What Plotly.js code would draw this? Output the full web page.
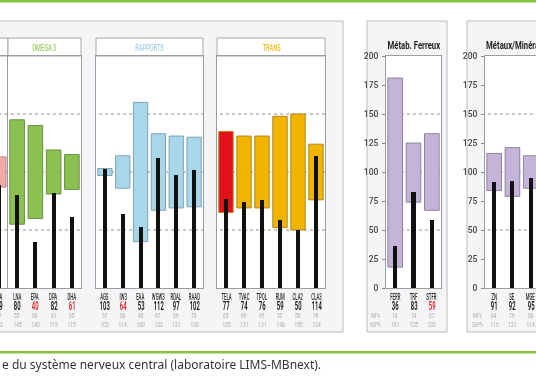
<!DOCTYPE html>
<html><head><meta charset="utf-8">
<script src="https://cdn.plot.ly/plotly-3.0.1.min.js"></script>
<style>html,body{margin:0;padding:0;background:#fff}#chart{width:536px;height:386px;will-change:transform}</style>
</head><body><div id="chart"></div>
<script>
// ---------- DATA ----------
const partCats = ['GLA'];
const partVal  = [89];
const partInf  = [87];
const partSup  = [113];

const omegaCats = ['LNA','EPA','DPA','DHA'];
const omegaVal  = [80, 40, 82, 61];
const omegaInf  = [55, 60, 81, 85];
const omegaSup  = [145, 140, 119, 115];

const rappCats = ['AGS','IW3','EAA','WGW3','RDAL','RAAD'];
const rappVal  = [103, 64, 53, 112, 97, 102];
const rappInf  = [97, 86, 40, 67, 69, 70];
const rappSup  = [103, 114, 160, 133, 131, 130];

const transCats = ['TELA','TVAC','TPOL','RUM','CLA2','CLA3'];
const transVal  = [77, 74, 76, 59, 50, 114];
const transInf  = [65, 69, 69, 52, 50, 76];
const transSup  = [135, 131, 131, 148, 150, 124];

const ferCats = ['FERR','TRF','STFR'];
const ferVal  = [36, 83, 59];
const ferInf  = [18, 74, 67];
const ferSup  = [181, 125, 133];

const metCats = ['ZN','SE','MGE'];
const metVal  = [91, 92, 95];
const metInf  = [84, 79, 86];
const metSup  = [116, 121, 114];

const headerTitles = ['', 'OMEGA 3', 'RAPPORTS', 'TRANS', 'Métab. Ferreux', 'Métaux/Minéraux'];
const yTickVals = [0, 25, 50, 75, 100, 125, 150, 175, 200];
const gridVals = [50, 100, 150];
const caption = 'e du système nerveux central (laboratoire LIMS-MBnext).';

// ---------- LAYOUT HELPERS ----------
const W = 536, H = 386;
const X = p => p / W, Y = p => 1 - p / H;
const COND = 'Roboto, "DejaVu Sans", sans-serif';
const PLOT_TOP = 56, PLOT_BOT = 288;

const panels = [
  {cats: partCats, val: partVal, inf: partInf, sup: partSup, px0: -3, px1: 8, dom: [0, 8], range: [0.068, 0.507],
   fill: '#f2a9a8', edge: '#b88888', hcolor: '#000', header: true, yticks: false, yline: false, paperLabels: true},
  {cats: omegaCats, val: omegaVal, inf: omegaInf, sup: omegaSup, px0: 8, px1: 81, dom: [8, 81], range: [-0.5, 3.5],
   fill: '#8cc152', edge: '#6a8f45', hcolor: '#9dcc6a', header: true, yticks: false, yline: true},
  {cats: rappCats, val: rappVal, inf: rappInf, sup: rappSup, px0: 96, px1: 203, dom: [96, 203], range: [-0.5, 5.5],
   fill: '#a8d7ea', edge: '#7da3b3', hcolor: '#a3cfe6', header: true, yticks: false, yline: true},
  {cats: transCats, val: transVal, inf: transInf, sup: transSup, px0: 217, px1: 325, dom: [217, 325], range: [-0.5, 5.5],
   fill: '#f1b400', edge: '#b08a20', hcolor: '#efbd1c', header: true, yticks: false, yline: true, special: {0: '#e3101a'}},
  {cats: ferCats, val: ferVal, inf: ferInf, sup: ferSup, px0: 386, px1: 441, dom: [386, 441], range: [-0.5, 2.5],
   fill: '#c5b3da', edge: '#8f8499', hcolor: '#1e1e1e', header: false, yticks: true, yline: true, infx: 375},
  {cats: metCats, val: metVal, inf: metInf, sup: metSup, px0: 485, px1: 540, dom: [485, 536], range: [-0.5, 2.287],
   fill: '#c5b3da', edge: '#8f8499', hcolor: '#1e1e1e', header: false, yticks: true, yline: true, noRight: true, infx: 477}
];

const traces = [];
const shapes = [];
const annotations = [];
const annScale = [];   // horizontal condensation applied after drawing
const annLeft = [];
const layout = {
  width: W, height: H, margin: {l: 0, r: 0, t: 0, b: 0},
  paper_bgcolor: '#ffffff', plot_bgcolor: 'rgba(0,0,0,0)',
  showlegend: false, barmode: 'overlay', bargap: 0
};
function addAnn(a, scale, left) { annotations.push(a); annScale.push(scale); annLeft.push(!!left); }

// background boxes
const boxFill = '#f4f5f7', boxLine = '#b9bcc0';
[[-3, 343], [367, 447], [467, 545]].forEach(b => shapes.push({type: 'rect', xref: 'paper', yref: 'paper',
  x0: X(b[0]), x1: X(b[1]), y0: Y(332), y1: Y(21), fillcolor: boxFill, line: {color: boxLine, width: 1}, layer: 'below'}));
// green rules
shapes.push({type: 'rect', xref: 'paper', yref: 'paper', x0: 0, x1: 1, y0: Y(2.5), y1: Y(0),
  fillcolor: '#86c440', line: {width: 0}, layer: 'below'});
shapes.push({type: 'rect', xref: 'paper', yref: 'paper', x0: 0, x1: 1, y0: Y(353.5), y1: Y(351),
  fillcolor: '#86c440', line: {width: 0}, layer: 'below'});

const rowY = {name: 296.5, val: 305.5, inf: 315.5, sup: 324.5};

panels.forEach((p, i) => {
  const s = i === 0 ? '' : String(i + 1);
  const xa = 'x' + s, ya = 'y' + s;
  const n = p.cats.length;

  shapes.push({type: 'rect', xref: 'paper', yref: 'paper', x0: X(p.px0), x1: X(p.px1), y0: Y(PLOT_BOT), y1: Y(PLOT_TOP),
    fillcolor: '#ffffff', line: {width: 0}, layer: 'below'});
  if (p.header) {
    shapes.push({type: 'rect', xref: 'paper', yref: 'paper', x0: X(p.px0), x1: X(p.px1), y0: Y(56), y1: Y(38),
      fillcolor: '#ffffff', line: {color: '#a4a7ab', width: 1}, layer: 'below'});
    if (headerTitles[i]) addAnn({xref: 'paper', yref: 'paper', x: X((p.px0 + p.px1) / 2), y: Y(47.5),
      text: headerTitles[i], showarrow: false, xanchor: 'center', yanchor: 'middle',
      font: {family: COND, size: 8.5, weight: 500, color: p.hcolor}}, 0.66);
  } else {
    const left = i === 5;
    addAnn({xref: 'paper', yref: 'paper', x: left ? X(484) : X((p.px0 + p.px1) / 2), y: Y(45.5),
      text: '<b>' + headerTitles[i] + '</b>', showarrow: false, xanchor: left ? 'left' : 'center', yanchor: 'middle',
      font: {family: COND, size: 10.5, color: p.hcolor}}, 0.74, left);
  }

  layout['xaxis' + s] = {domain: [X(p.dom[0]), X(p.dom[1])], range: p.range, type: 'category', anchor: ya,
    showline: true, mirror: true, linecolor: '#9a9da1', linewidth: 1, ticks: '', showticklabels: false,
    showgrid: false, zeroline: false, fixedrange: true};
  layout['yaxis' + s] = {domain: [Y(PLOT_BOT), Y(PLOT_TOP)], range: [0, 200], anchor: xa,
    showline: p.yline, mirror: p.noRight ? false : true, linecolor: '#9a9da1', linewidth: 1,
    showgrid: false, zeroline: false, fixedrange: true,
    showticklabels: p.yticks, ticks: p.yticks ? 'outside' : '', ticklen: 3, tickcolor: '#8a8a8a',
    tickmode: 'array', tickvals: yTickVals, ticklabelstandoff: 2,
    tickfont: {family: COND, size: 8.5, weight: 500, color: '#444'}};

  gridVals.forEach(g => shapes.push({type: 'line', xref: xa, yref: ya, x0: -1, x1: n + 1, y0: g, y1: g,
    line: {color: '#8d9094', width: 1, dash: 'dot'}, layer: 'below'}));

  const colors = p.cats.map((c, k) => (p.special && p.special[k]) ? p.special[k] : p.fill);
  traces.push({type: 'bar', x: p.cats, y: p.sup.map((v, k) => v - p.inf[k]), base: p.inf, width: 0.8,
    xaxis: xa, yaxis: ya, marker: {color: colors, line: {color: p.edge, width: 1}}, hoverinfo: 'skip'});
  traces.push({type: 'bar', x: p.cats, y: p.val, base: 0, width: 0.22,
    xaxis: xa, yaxis: ya, marker: {color: '#111111', line: {width: 0}}, hoverinfo: 'skip'});

  p.cats.forEach((c, k) => {
    const out = p.val[k] < p.inf[k] || p.val[k] > p.sup[k];
    let ax;
    if (p.paperLabels) {
      const frac = (k - p.range[0]) / (p.range[1] - p.range[0]);
      ax = {xref: 'paper', x: X(p.dom[0] + frac * (p.dom[1] - p.dom[0]))};
    } else ax = {xref: xa, x: k};
    const rows = [
      [c, rowY.name, 9.5, '#2a2a2a', 0.45, 500],
      [String(p.val[k]), rowY.val, 12.5, out ? '#e5232b' : '#111', 0.47, 600],
      [String(p.inf[k]), rowY.inf, 6.5, '#aaaaaa', 0.75, 400],
      [String(p.sup[k]), rowY.sup, 6.5, '#aaaaaa', 0.75, 400]
    ];
    rows.forEach(r => addAnn(Object.assign({}, ax, {yref: 'paper', y: Y(r[1]), text: r[0],
      showarrow: false, xanchor: 'center', yanchor: 'middle',
      font: {family: COND, size: r[2], weight: r[5], color: r[3]}}), r[4]));
  });
  if (p.infx) {
    ['INF%', 'SUP%'].forEach((t, j) => addAnn({xref: 'paper', yref: 'paper', x: X(p.infx),
      y: Y(j ? rowY.sup : rowY.inf), text: t, showarrow: false, xanchor: 'center', yanchor: 'middle',
      font: {family: COND, size: 6.5, color: '#aaaaaa'}}, 0.63));
  }
});

addAnn({xref: 'paper', yref: 'paper', x: 0, y: Y(364), text: caption, showarrow: false,
  xanchor: 'left', yanchor: 'middle', font: {family: '"Noto Sans", "Open Sans", sans-serif', size: 12, color: '#333'}}, 1, true);

layout.shapes = shapes;
layout.annotations = annotations;

function condense(el, s, mode) {
  const bb = el.getBBox();
  const ax = mode === 'left' ? bb.x : (mode === 'right' ? bb.x + bb.width : bb.x + bb.width / 2);
  const prev = el.getAttribute('transform') || '';
  el.setAttribute('transform', prev + ' translate(' + ax + ',0) scale(' + s + ',1) translate(' + (-ax) + ',0)');
}

Plotly.newPlot('chart', traces, layout, {displayModeBar: false, staticPlot: true}).then(gd => {
  gd.querySelectorAll('g.annotation').forEach(g => {
    const i = +g.getAttribute('data-index');
    const s = annScale[i];
    if (!s || s === 1) return;
    const t = g.querySelector('text.annotation-text');
    if (t) condense(t, s, annLeft[i] ? 'left' : 'center');
  });
  gd.querySelectorAll('.ytick text').forEach(t => condense(t, 0.72, 'right'));
});
</script></body></html>
